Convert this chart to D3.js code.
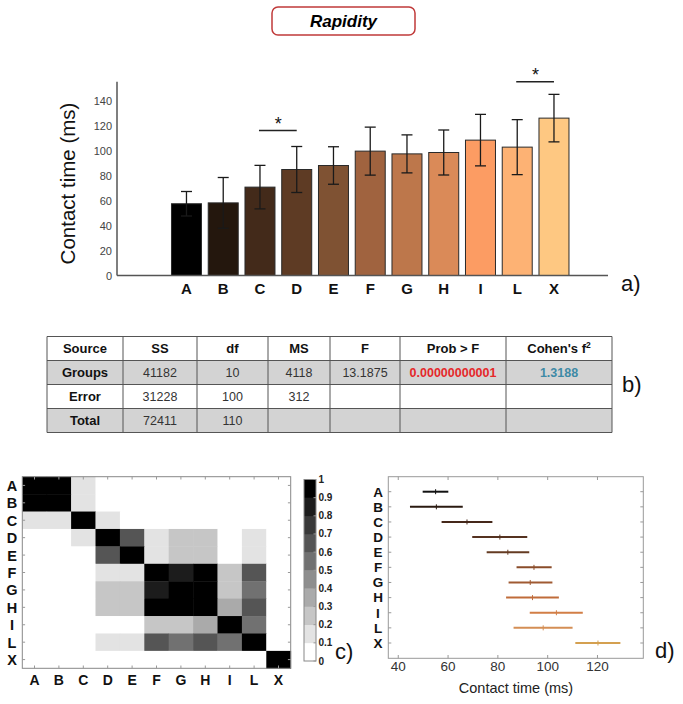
<!DOCTYPE html>
<html><head><meta charset="utf-8">
<script src="https://cdn.jsdelivr.net/npm/d3@7"></script>
<style>
html,body{margin:0;padding:0;background:#fff;}
svg{display:block;font-family:"Liberation Sans",Arial,sans-serif;}
</style></head>
<body><svg id="chart" width="683" height="704"></svg>
<script>
// ---------- DATA ----------
const categories = ["A","B","C","D","E","F","G","H","I","L","X"];
const meanTime = [57.4, 58.1, 70.7, 84.8, 88.0, 99.5, 97.3, 98.4, 108.3, 102.7, 125.9];
const sdTime   = [9.8, 20.3, 17.4, 18.4, 15.0, 19.2, 15.2, 18.0, 20.6, 22.0, 19.0];
const barColors = ["#000000","#24170d","#432a1a","#5e3b24","#7f5233","#a0633f","#bd774b","#da8a58","#fc9c63","#fdb274","#fec882"];
const yTicks = [0,20,40,60,80,100,120,140];
const sigPairs = [["C","D",116],["L","X",155]];

const tableHeader = ["Source","SS","df","MS","F","Prob > F","Cohen's f"];
const tableRows = [
  ["Groups","41182","10","4118","13.1875","0.00000000001","1.3188"],
  ["Error","31228","100","312","","",""],
  ["Total","72411","110","","","",""]
];

const simMatrix = [
  [1,1,0.15,0,0,0,0,0,0,0,0],
  [1,1,0.15,0,0,0,0,0,0,0,0],
  [0.15,0.15,1,0.15,0,0,0,0,0,0,0],
  [0,0,0.15,1,0.65,0.15,0.25,0.25,0,0.15,0],
  [0,0,0,0.65,1,0.15,0.25,0.25,0,0.15,0],
  [0,0,0,0.15,0.15,1,0.85,1,0.25,0.65,0],
  [0,0,0,0.25,0.25,0.85,1,1,0.25,0.55,0],
  [0,0,0,0.25,0.25,1,1,1,0.35,0.65,0],
  [0,0,0,0,0,0.25,0.25,0.35,1,0.55,0],
  [0,0,0,0.15,0.15,0.65,0.55,0.65,0.55,1,0],
  [0,0,0,0,0,0,0,0,0,0,1]
];
const cbTicks = [0,0.1,0.2,0.3,0.4,0.5,0.6,0.7,0.8,0.9,1];

const ciLow  = [49.8, 44.7, 57.4, 69.7, 75.5, 87.5, 84.3, 83.3, 92.8, 86.3, 111.1];
const ciMean = [55.0, 55.3, 67.6, 80.8, 84.0, 94.5, 93.0, 93.9, 103.5, 98.2, 120.2];
const ciHigh = [60.1, 65.9, 77.8, 91.8, 92.6, 101.6, 101.9, 104.5, 114.1, 110.0, 129.2];
const ciColors = ["#111111","#2a1a10","#45281a","#553220","#643b22","#8a4c2a","#a05a32","#c06c3a","#d27e46","#d48e55","#d4a050"];
const dTicks = [40,60,80,100,120];

// ---------- SETUP ----------
const svg = d3.select("#chart");

// Title box
svg.append("rect").attr("x",272).attr("y",7).attr("width",143).attr("height",28)
  .attr("rx",6).attr("fill","#fff").attr("stroke","#c03a3a").attr("stroke-width",1.5);
svg.append("text").attr("x",343.5).attr("y",27).attr("text-anchor","middle")
  .attr("font-size",17).attr("font-weight","bold").attr("font-style","italic").text("Rapidity");

// ---------- PANEL A: bar chart ----------
const xA = d3.scaleBand().domain(categories).range([168.1,572.35]).paddingInner(0.184).paddingOuter(0.092);
const yA = d3.scaleLinear().domain([0,155]).range([275.5,81.75]);
const gA = svg.append("g");

gA.selectAll("rect.bar").data(categories).join("rect").attr("class","bar")
  .attr("x",d=>xA(d)).attr("width",xA.bandwidth())
  .attr("y",(d,i)=>yA(meanTime[i])).attr("height",(d,i)=>yA(0)-yA(meanTime[i]))
  .attr("fill",(d,i)=>barColors[i]).attr("stroke","#2a2a2a").attr("stroke-width",1);

const cx = d=>xA(d)+xA.bandwidth()/2;
const eb = gA.selectAll("g.eb").data(categories).join("g").attr("class","eb")
  .attr("stroke","#1a1a1a").attr("stroke-width",1.3);
eb.append("line").attr("x1",cx).attr("x2",cx)
  .attr("y1",(d,i)=>yA(meanTime[i]-sdTime[i])).attr("y2",(d,i)=>yA(meanTime[i]+sdTime[i]));
eb.append("line").attr("x1",d=>cx(d)-5.5).attr("x2",d=>cx(d)+5.5)
  .attr("y1",(d,i)=>yA(meanTime[i]+sdTime[i])).attr("y2",(d,i)=>yA(meanTime[i]+sdTime[i]));
eb.append("line").attr("x1",d=>cx(d)-5.5).attr("x2",d=>cx(d)+5.5)
  .attr("y1",(d,i)=>yA(meanTime[i]-sdTime[i])).attr("y2",(d,i)=>yA(meanTime[i]-sdTime[i]));

// axes
gA.append("line").attr("x1",117).attr("x2",117).attr("y1",yA(155)).attr("y2",yA(0))
  .attr("stroke","#555").attr("stroke-width",1.5);
gA.append("line").attr("x1",117).attr("x2",608).attr("y1",yA(0)).attr("y2",yA(0))
  .attr("stroke","#555").attr("stroke-width",1.5);
gA.selectAll("text.yt").data(yTicks).join("text").attr("class","yt")
  .attr("x",112).attr("y",d=>yA(d)+4).attr("text-anchor","end")
  .attr("font-size",11).attr("fill","#444").text(d=>d);
gA.selectAll("text.xt").data(categories).join("text").attr("class","xt")
  .attr("x",cx).attr("y",294).attr("text-anchor","middle")
  .attr("font-size",15).attr("font-weight","bold").attr("fill","#111").text(d=>d);
gA.append("text").attr("transform","translate(75,183.5) rotate(-90)")
  .attr("text-anchor","middle").attr("font-size",20.5).attr("fill","#111").text("Contact time (ms)");
// significance
sigPairs.forEach(p=>{
  gA.append("line").attr("x1",cx(p[0])-1).attr("x2",cx(p[1])).attr("y1",yA(p[2])).attr("y2",yA(p[2]))
    .attr("stroke","#222").attr("stroke-width",1.5);
  gA.append("text").attr("x",(cx(p[0])+cx(p[1]))/2).attr("y",yA(p[2])-1).attr("text-anchor","middle")
    .attr("font-size",18).attr("fill","#111").text("*");
});
svg.append("text").attr("x",621).attr("y",291).attr("font-size",22).attr("fill","#111").text("a)");

// ---------- PANEL B: table ----------
const colEdges = [47,123,197,268,330,400,506,612];
const rowTop = 336.5, rowH = 24;
const gB = svg.append("g");
const allRows = [tableHeader].concat(tableRows);
allRows.forEach((row,r)=>{
  const shaded = (r===1 || r===3);
  gB.append("rect").attr("x",colEdges[0]).attr("y",rowTop+r*rowH)
    .attr("width",colEdges[7]-colEdges[0]).attr("height",rowH)
    .attr("fill",shaded?"#d3d3d3":"#fff");
  row.forEach((cell,c)=>{
    const t = gB.append("text").attr("x",(colEdges[c]+colEdges[c+1])/2)
      .attr("y",rowTop+r*rowH+rowH/2+4.5).attr("text-anchor","middle");
    if (r===0 || c===0) { t.attr("font-weight","bold").attr("font-size",13).attr("fill","#111"); }
    else { t.attr("font-size",12.5).attr("fill","#333"); }
    if (r===1 && c===5) t.attr("fill","#e5282a").attr("font-weight","bold");
    if (r===1 && c===6) t.attr("fill","#3e8aa6").attr("font-weight","bold");
    t.text(cell);
    if (r===0 && c===6) {
      t.append("tspan").attr("font-size",8.5).attr("dy",-5).text("2");
    }
  });
});
for (let r=0;r<=4;r++) gB.append("line").attr("x1",colEdges[0]).attr("x2",colEdges[7])
  .attr("y1",rowTop+r*rowH).attr("y2",rowTop+r*rowH).attr("stroke","#555").attr("stroke-width",1);
colEdges.forEach(x=>gB.append("line").attr("x1",x).attr("x2",x).attr("y1",rowTop).attr("y2",rowTop+4*rowH)
  .attr("stroke","#555").attr("stroke-width",1));
svg.append("text").attr("x",622).attr("y",392).attr("font-size",22).attr("fill","#111").text("b)");

// ---------- PANEL C: heatmap ----------
const xC = d3.scaleBand().domain(categories).range([22.3,290.7]);
const yC = d3.scaleBand().domain(categories).range([476.7,668.3]);
const grays = d3.range(10).map(i=>d3.rgb(255*(1-i/9),255*(1-i/9),255*(1-i/9)).formatHex());
const colorC = d3.scaleQuantize().domain([0,1]).range(grays);
const gC = svg.append("g");
simMatrix.forEach((row,r)=>row.forEach((v,c)=>{
  gC.append("rect").attr("x",xC(categories[c])).attr("y",yC(categories[r]))
    .attr("width",xC.bandwidth()+0.4).attr("height",yC.bandwidth()+0.4).attr("fill",colorC(Math.min(v,0.999)));
}));
gC.append("rect").attr("x",22.3).attr("y",476.7).attr("width",268.4).attr("height",191.6)
  .attr("fill","none").attr("stroke","#888").attr("stroke-width",1);
categories.forEach(k=>{
  const xx = xC(k)+xC.bandwidth()/2, yy = yC(k)+yC.bandwidth()/2;
  gC.append("line").attr("x1",xx).attr("x2",xx).attr("y1",476.7).attr("y2",479.5).attr("stroke","#999");
  gC.append("line").attr("x1",xx).attr("x2",xx).attr("y1",668.3).attr("y2",665.5).attr("stroke","#999");
  gC.append("line").attr("x1",22.3).attr("x2",25.1).attr("y1",yy).attr("y2",yy).attr("stroke","#999");
  gC.append("line").attr("x1",290.7).attr("x2",287.9).attr("y1",yy).attr("y2",yy).attr("stroke","#999");
  gC.append("text").attr("x",12).attr("y",yy+5.5).attr("text-anchor","middle")
    .attr("font-size",14.5).attr("font-weight","bold").attr("fill","#111").text(k);
  gC.append("text").attr("x",xx).attr("y",684.5).attr("text-anchor","middle")
    .attr("font-size",14).attr("font-weight","bold").attr("fill","#111").text(k);
});
// colorbar
const yCb = d3.scaleLinear().domain([0,1]).range([661,479.5]);
grays.forEach((g,i)=>{
  gC.append("rect").attr("x",304).attr("y",yCb((i+1)/10)).attr("width",12)
    .attr("height",yCb(i/10)-yCb((i+1)/10)+0.3).attr("fill",g);
});
gC.append("rect").attr("x",304).attr("y",yCb(1)).attr("width",12).attr("height",yCb(0)-yCb(1))
  .attr("fill","none").attr("stroke","#888");
cbTicks.forEach(t=>{
  gC.append("line").attr("x1",313.5).attr("x2",316).attr("y1",yCb(t)).attr("y2",yCb(t)).attr("stroke","#999");
  gC.append("text").attr("x",318.5).attr("y",yCb(t)+3.5).attr("font-size",10).attr("font-weight","bold")
    .attr("fill","#222").text(t);
});
svg.append("text").attr("x",335).attr("y",659).attr("font-size",22).attr("fill","#111").text("c)");

// ---------- PANEL D: intervals ----------
const xD = d3.scaleLinear().domain([36,138.4]).range([388.3,643.3]);
const yD = d3.scalePoint().domain(categories).range([491.7,643]);
const gD = svg.append("g");
gD.append("rect").attr("x",388.3).attr("y",476.7).attr("width",255).attr("height",181.6)
  .attr("fill","none").attr("stroke","#999").attr("stroke-width",1);
dTicks.forEach(t=>{
  gD.append("line").attr("x1",xD(t)).attr("x2",xD(t)).attr("y1",658.3).attr("y2",655).attr("stroke","#999");
  gD.append("line").attr("x1",xD(t)).attr("x2",xD(t)).attr("y1",476.7).attr("y2",480).attr("stroke","#999");
  gD.append("text").attr("x",xD(t)).attr("y",671).attr("text-anchor","middle")
    .attr("font-size",13.5).attr("fill","#333").text(t);
});
categories.forEach((k,i)=>{
  const yy = yD(k);
  gD.append("line").attr("x1",388.3).attr("x2",391.3).attr("y1",yy).attr("y2",yy).attr("stroke","#999");
  gD.append("line").attr("x1",643.3).attr("x2",640.3).attr("y1",yy).attr("y2",yy).attr("stroke","#999");
  gD.append("text").attr("x",378).attr("y",yy+4.8).attr("text-anchor","middle")
    .attr("font-size",13.5).attr("font-weight","bold").attr("fill","#111").text(k);
  gD.append("line").attr("x1",xD(ciLow[i])).attr("x2",xD(ciHigh[i])).attr("y1",yy).attr("y2",yy)
    .attr("stroke",ciColors[i]).attr("stroke-width",2);
  gD.append("line").attr("x1",xD(ciMean[i])).attr("x2",xD(ciMean[i])).attr("y1",yy-2.5).attr("y2",yy+2.5)
    .attr("stroke",ciColors[i]).attr("stroke-width",1);
});
gD.append("text").attr("x",516).attr("y",693).attr("text-anchor","middle")
  .attr("font-size",14.5).attr("fill","#222").text("Contact time (ms)");
svg.append("text").attr("x",655).attr("y",658).attr("font-size",22).attr("fill","#111").text("d)");
</script></body></html>
